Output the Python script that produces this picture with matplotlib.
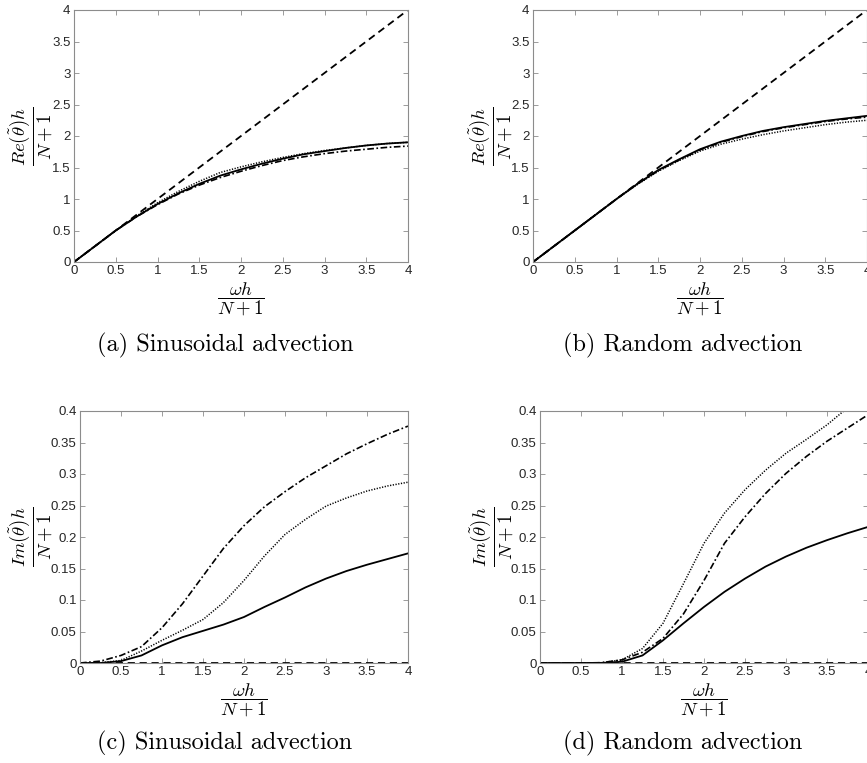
import numpy as np
import matplotlib
matplotlib.use('Agg')
from matplotlib import pyplot as plt

plt.rcParams['mathtext.fontset'] = 'cm'
plt.rcParams['font.family'] = ['Liberation Sans', 'DejaVu Sans']

# frequency axis  omega*h/(N+1)
x = [0, 0.25, 0.5, 0.75, 1, 1.25, 1.5, 1.75, 2, 2.25, 2.5, 2.75, 3, 3.25, 3.5, 3.75, 4]

# real part, sinusoidal advection
re_sin_exact = [0, 0.25, 0.5, 0.75, 1, 1.25, 1.5, 1.75, 2, 2.25, 2.5, 2.75, 3, 3.25, 3.5, 3.75, 4]
re_sin_solid = [0, 0.25, 0.5, 0.72, 0.92, 1.09, 1.24, 1.37, 1.47, 1.56, 1.64, 1.71, 1.76, 1.81, 1.85, 1.88, 1.90]
re_sin_dot = [0, 0.25, 0.5, 0.73, 0.94, 1.12, 1.28, 1.42, 1.51, 1.59, 1.66, 1.72, 1.77, 1.81, 1.85, 1.88, 1.90]
re_sin_dashdot = [0, 0.25, 0.5, 0.72, 0.91, 1.08, 1.22, 1.34, 1.44, 1.53, 1.61, 1.67, 1.72, 1.76, 1.79, 1.82, 1.84]

# real part, random advection
re_rand_exact = re_sin_exact
re_rand_solid = [0, 0.25, 0.5, 0.75, 1.0, 1.24, 1.46, 1.63, 1.79, 1.91, 2.0, 2.08, 2.14, 2.19, 2.24, 2.28, 2.32]
re_rand_dot = [0, 0.25, 0.5, 0.75, 1.0, 1.23, 1.44, 1.61, 1.76, 1.87, 1.95, 2.02, 2.08, 2.13, 2.18, 2.22, 2.25]
re_rand_dashdot = [0, 0.25, 0.5, 0.75, 1.0, 1.24, 1.45, 1.62, 1.78, 1.90, 1.99, 2.07, 2.13, 2.18, 2.23, 2.27, 2.30]

# imaginary part, sinusoidal advection
im_sin_exact = [0] * 17
im_sin_solid = [0, 0, 0.003, 0.012, 0.028, 0.041, 0.051, 0.061, 0.073, 0.089, 0.104, 0.120, 0.134, 0.146, 0.156, 0.165, 0.174]
im_sin_dot = [0, 0.0005, 0.004, 0.019, 0.036, 0.052, 0.069, 0.096, 0.131, 0.170, 0.204, 0.228, 0.249, 0.262, 0.273, 0.281, 0.287]
im_sin_dashdot = [0, 0.003, 0.012, 0.026, 0.056, 0.094, 0.138, 0.182, 0.218, 0.248, 0.272, 0.294, 0.313, 0.332, 0.348, 0.363, 0.376]

# imaginary part, random advection
im_rand_exact = [0] * 17
im_rand_solid = [0, 0, 0, 0, 0.002, 0.012, 0.036, 0.063, 0.089, 0.113, 0.134, 0.153, 0.169, 0.183, 0.195, 0.206, 0.216]
im_rand_dot = [0, 0, 0, 0.0005, 0.005, 0.023, 0.063, 0.126, 0.190, 0.238, 0.275, 0.306, 0.333, 0.355, 0.378, 0.405, 0.430]
im_rand_dashdot = [0, 0, 0, 0.0005, 0.005, 0.017, 0.039, 0.078, 0.131, 0.190, 0.232, 0.269, 0.301, 0.328, 0.352, 0.373, 0.394]

xticks = [0, 0.5, 1, 1.5, 2, 2.5, 3, 3.5, 4]
re_yticks = [0, 0.5, 1, 1.5, 2, 2.5, 3, 3.5, 4]
im_yticks = [0, 0.05, 0.1, 0.15, 0.2, 0.25, 0.3, 0.35, 0.4]

captions = ['(a) Sinusoidal advection', '(b) Random advection',
            '(c) Sinusoidal advection', '(d) Random advection']

W, H = 867, 763
fig = plt.figure(figsize=(W / 100, H / 100), dpi=100)


def make_axes(l, t, r, b):
    return fig.add_axes([l / W, 1 - b / H, (r - l) / W, (b - t) / H])


def style(ax, yticks, ylim, ylab, ylab_off):
    ax.set_xlim(0, 4)
    ax.set_ylim(*ylim)
    ax.set_xticks(xticks)
    ax.set_xticklabels(['%g' % v for v in xticks])
    ax.set_yticks(yticks)
    ax.set_yticklabels(['%g' % v for v in yticks])
    ax.tick_params(direction='in', length=3.5, width=0.6, color='#8c8c8c',
                   labelsize=9.5, labelcolor='#262626', top=True, right=True, pad=2.5)
    for s in ax.spines.values():
        s.set_color('#8c8c8c')
        s.set_linewidth(0.8)
    # axis labels, placed by their centres (offsets in pixels)
    bb = ax.get_position()
    w_px, h_px = bb.width * W, bb.height * H
    ax.set_xlabel(r'$\dfrac{\omega h}{N+1}$', fontsize=13.5, va='center')
    ax.xaxis.set_label_coords(0.5, -37 / h_px)
    ax.set_ylabel(ylab, fontsize=13.5, va='center')
    ax.yaxis.set_label_coords(-ylab_off / w_px, 0.5)


def draw(ax, exact, solid, dot, dashdot):
    ax.plot(x, exact, color='k', ls=(0, (4, 2.6)), lw=1.3)
    ax.plot(x, dot, color='k', ls=(0, (0.8, 1.0)), lw=1.1)
    ax.plot(x, dashdot, color='k', ls=(0, (4, 1.5, 1, 1.5)), lw=1.2)
    ax.plot(x, solid, color='k', ls='-', lw=1.3)


re_lab = r'$\dfrac{Re(\tilde{\theta})h}{N+1}$'
im_lab = r'$\dfrac{Im(\tilde{\theta})h}{N+1}$'

ax_a = make_axes(74, 10, 408, 262)
draw(ax_a, re_sin_exact, re_sin_solid, re_sin_dot, re_sin_dashdot)
style(ax_a, re_yticks, (0, 4), re_lab, 43)

ax_b = make_axes(533, 10, 867, 262)
draw(ax_b, re_rand_exact, re_rand_solid, re_rand_dot, re_rand_dashdot)
style(ax_b, re_yticks, (0, 4), re_lab, 42)

ax_c = make_axes(80, 411, 408, 663)
draw(ax_c, im_sin_exact, im_sin_solid, im_sin_dot, im_sin_dashdot)
style(ax_c, im_yticks, (0, 0.4), im_lab, 49)

ax_d = make_axes(540, 411, 868, 663)
draw(ax_d, im_rand_exact, im_rand_solid, im_rand_dot, im_rand_dashdot)
style(ax_d, im_yticks, (0, 0.4), im_lab, 48)

# subfigure captions
for (cx, cy), cap in zip([(225, 345), (683, 345), (225, 743), (683, 743)], captions):
    fig.text(cx / W, 1 - cy / H, cap, ha='center', va='center',
             fontsize=17.5, family='cmr10')

fig.savefig('out.png', dpi=100)
